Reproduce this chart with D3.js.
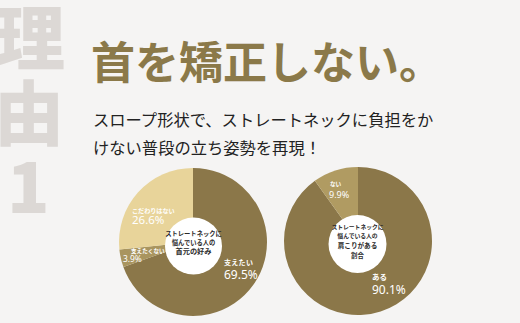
<!DOCTYPE html>
<html><head><meta charset="utf-8">
<script src="https://cdn.jsdelivr.net/npm/d3@7"></script>
<style>
html,body{margin:0;padding:0;background:#f5f4f3;}
svg{display:block;font-family:"Noto Sans CJK JP","Noto Sans",sans-serif;}
</style></head>
<body>
<div id="chart"></div>
<script>
// Data
const sideLabel = ["理", "由", "1"];
const title = "首を矯正しない。";
const subtitle = ["スロープ形状で、ストレートネックに負担をか", "けない普段の立ち姿勢を再現！"];

const leftCategories = ["支えたい", "支えたくない", "こだわりはない"];
const leftValues = [69.5, 3.9, 26.6];
const leftCenter = ["ストレートネックに", "悩んでいる人の", "首元の好み"];

const rightCategories = ["ある", "ない"];
const rightValues = [90.1, 9.9];
const rightCenter = ["ストレートネックに", "悩んでいる人の", "肩こりがある", "割合"];

const W = 520, H = 323;
const svg = d3.select("#chart").append("svg").attr("width", W).attr("height", H);
svg.append("rect").attr("width", W).attr("height", H).attr("fill", "#f5f4f3");

// Side big label
const sidePos = [{ x: -5, y: 65 }, { x: -6, y: 140 }, { x: 7, y: 213 }];
svg.selectAll("text.side").data(sideLabel).join("text")
  .attr("class", "side")
  .attr("x", (d, i) => sidePos[i].x)
  .attr("y", (d, i) => sidePos[i].y)
  .attr("font-size", 70).attr("font-weight", 900)
  .attr("fill", "#dcd8d5")
  .text(d => d);

// Title
svg.append("text").attr("x", 91).attr("y", 79)
  .attr("font-size", 44).attr("font-weight", 700)
  .attr("fill", "#8b7949")
  .text(title);

svg.selectAll("text.sub").data(subtitle).join("text")
  .attr("class", "sub")
  .attr("x", 93).attr("y", (d, i) => 126 + i * 28)
  .attr("font-size", 16.3).attr("font-weight", 400)
  .attr("fill", "#222")
  .text(d => d);

function donut(o) {
  const g = svg.append("g").attr("transform", `translate(${o.cx},${o.cy})`);
  const pie = d3.pie().sort(null).value(d => d.v);
  const data = pie(o.cats.map((c, i) => ({ c, v: o.vals[i], i })));
  const arc = d3.arc().innerRadius(0).outerRadius(o.r);
  g.selectAll("path").data(data).join("path")
    .attr("d", arc).attr("fill", d => o.colors[d.data.i]);
  g.append("circle").attr("cx", o.inX).attr("cy", o.inY).attr("r", o.rIn).attr("fill", "#fff");
  g.selectAll("text.center").data(o.center).join("text")
    .attr("class", "center")
    .attr("x", o.inX).attr("y", (d, i) => o.centerY[i])
    .attr("text-anchor", "middle")
    .attr("font-size", (d, i) => o.centerS[i]).attr("font-weight", 700).attr("fill", "#2a2a2a")
    .text(d => d);
  o.labels.forEach(lb => {
    const d = data[lb.idx];
    g.append("text").attr("x", lb.x1).attr("y", lb.y1)
      .attr("font-size", lb.s1).attr("font-weight", 700).attr("fill", "#fff")
      .attr("letter-spacing", lb.ls || 0)
      .text(d.data.c);
    g.append("text").attr("x", lb.x2).attr("y", lb.y2)
      .attr("font-size", lb.s2).attr("font-weight", 400).attr("fill", "#fff")
      .attr("font-family", "'Noto Sans', sans-serif")
      .text(d3.format(".1f")(d.data.v) + "%");
  });
}

donut({
  cx: 193, cy: 242, r: 74, rIn: 28.5, inX: 0.5, inY: 4,
  cats: leftCategories, vals: leftValues,
  colors: ["#8b7749", "#a9955f", "#e8d49a"],
  center: leftCenter, centerY: [-6.5, 2.5, 12], centerS: [6.3, 6.3, 7.2],
  labels: [
    { idx: 0, x1: 31, y1: 23, s1: 7, ls: 0.3, x2: 31, y2: 36.5, s2: 12 },
    { idx: 1, x1: -62, y1: 10.5, s1: 5.6, x2: -70, y2: 20, s2: 8.4 },
    { idx: 2, x1: -61, y1: -29.5, s1: 6.1, x2: -61, y2: -18, s2: 11.5 }
  ]
});

donut({
  cx: 358, cy: 241, r: 74, rIn: 29, inX: -0.5, inY: 3,
  cats: rightCategories, vals: rightValues,
  colors: ["#8b7749", "#b09b62"],
  center: rightCenter, centerY: [-12, -3.5, 6.5, 16.5], centerS: [5.8, 5.8, 6.6, 6.4],
  labels: [
    { idx: 0, x1: 14, y1: 39, s1: 7.5, x2: 14, y2: 52.5, s2: 12 },
    { idx: 1, x1: -28, y1: -55, s1: 5.6, x2: -29, y2: -43.5, s2: 9 }
  ]
});
</script>
</body></html>
